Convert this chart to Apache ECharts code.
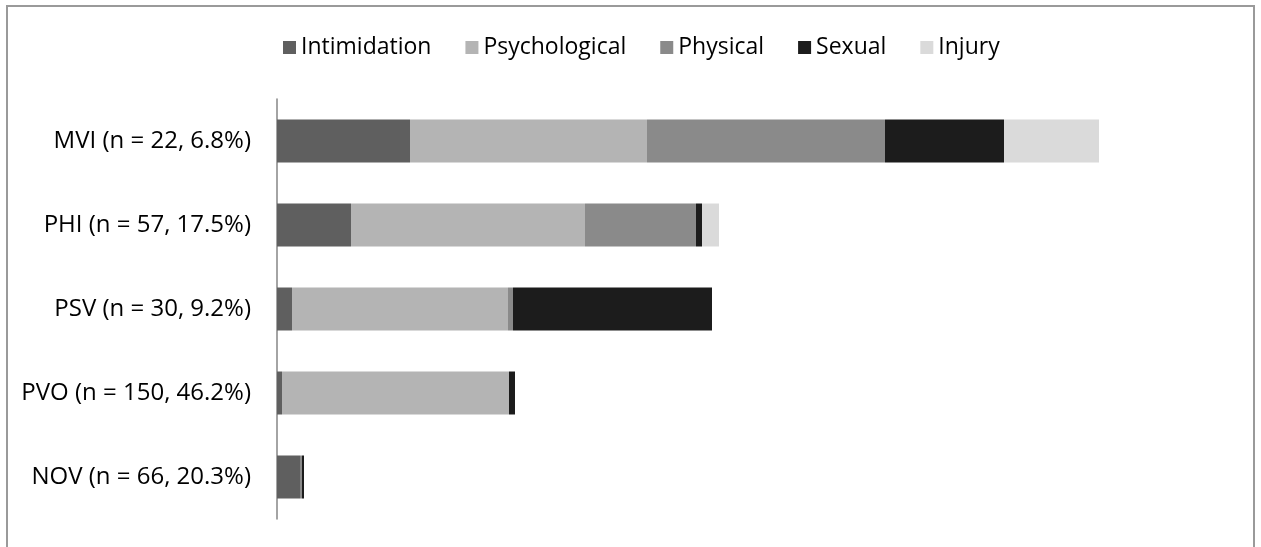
<!DOCTYPE html>
<html lang="en">

<head>
    <meta charset="UTF-8">
    <title>Violence types by group</title>
    <style>
        html, body { margin: 0; padding: 0; background: #fff; }
        #chart { width: 1261px; height: 547px; }
    </style>
</head>

<body>
    <div id="chart"></div>

    <script src="https://cdn.jsdelivr.net/npm/echarts@6/dist/echarts.min.js"></script>
    <script>
        // categories, bottom to top as drawn by the category axis
        var groups = ['NOV (n = 66, 20.3%)', 'PVO (n = 150, 46.2%)', 'PSV (n = 30, 9.2%)', 'PHI (n = 57, 17.5%)', 'MVI (n = 22, 6.8%)'];

        var intimidation = [2.3, 0.5, 1.5, 7.4, 13.3];
        var psychological = [0, 22.7, 21.6, 23.4, 23.7];
        var physical = [0.2, 0, 0.5, 11.1, 23.8];
        var sexual = [0.2, 0.6, 19.9, 0.6, 11.9];
        var injury = [0, 0, 0, 1.7, 9.5];

        var seriesNames = ['Intimidation', 'Psychological', 'Physical', 'Sexual', 'Injury'];
        var seriesData = [intimidation, psychological, physical, sexual, injury];
        var colors = ['#5f5f5f', '#b4b4b4', '#8a8a8a', '#1c1c1c', '#dadada'];

        var chart = echarts.init(document.getElementById('chart'));
        var font = '"Open Sans", sans-serif';

        var option = {
            animation: false,
            color: colors,
            graphic: [{
                type: 'rect',
                shape: { x: 7, y: 6, width: 1247, height: 600 },
                style: { fill: 'none', stroke: '#9a9a9a', lineWidth: 2 },
                silent: true
            }],
            legend: {
                top: 31,
                left: 278,
                itemWidth: 13,
                itemHeight: 13,
                itemGap: 34,
                icon: 'rect',
                textStyle: { fontFamily: font, fontSize: 23, color: '#000' },
                data: seriesNames
            },
            grid: {
                left: 277,
                top: 99,
                width: 960,
                height: 420
            },
            xAxis: {
                type: 'value',
                min: 0,
                max: 96,
                show: false
            },
            yAxis: {
                type: 'category',
                data: groups,
                axisLine: { show: true, lineStyle: { color: '#868686', width: 1.5 } },
                axisTick: { show: false },
                axisLabel: { fontFamily: font, fontSize: 24, color: '#000', margin: 26 }
            },
            series: seriesNames.map(function (name, i) {
                return {
                    name: name,
                    type: 'bar',
                    stack: 'total',
                    barWidth: 43,
                    data: seriesData[i]
                };
            })
        };

        chart.setOption(option, true);
    </script>
</body>

</html>
